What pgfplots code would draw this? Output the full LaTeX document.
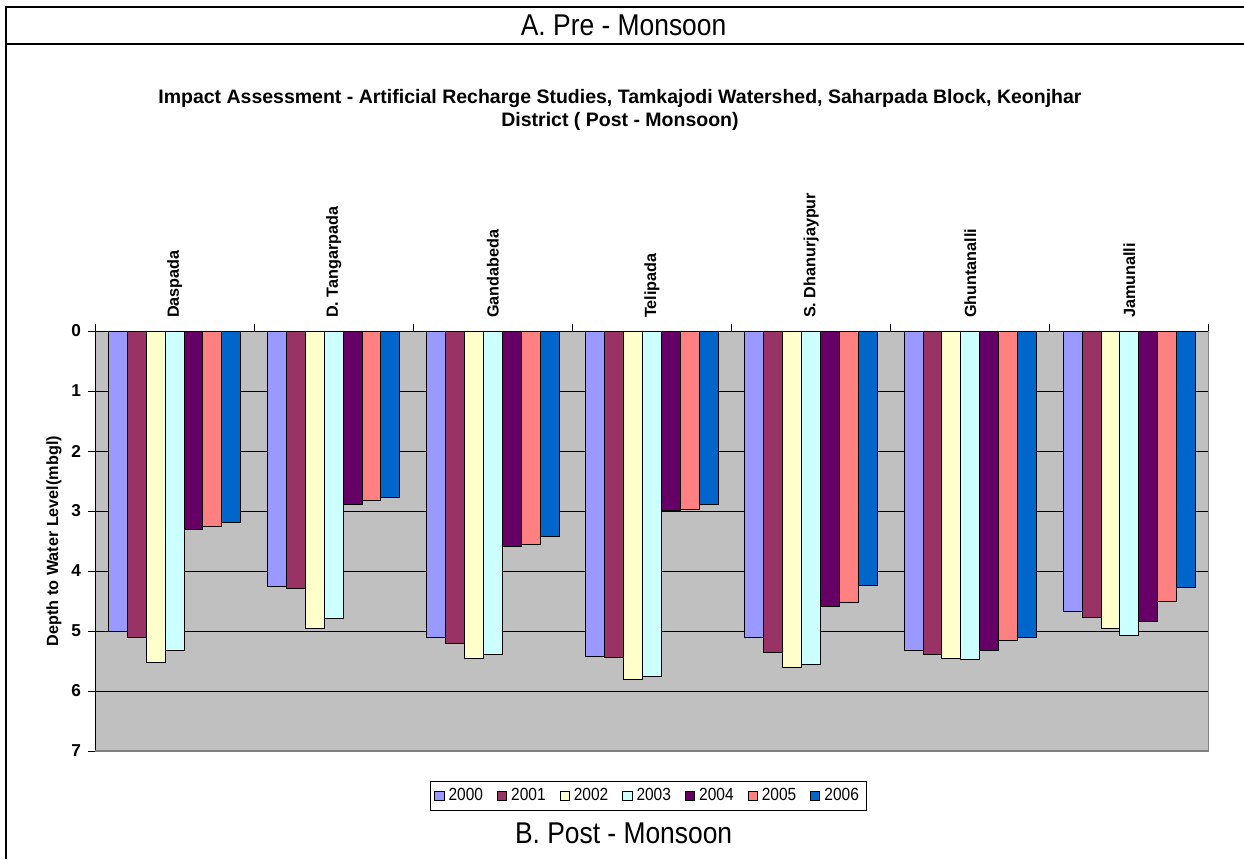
\documentclass[border=0pt]{standalone}
\usepackage{pgfplots}
\pgfplotsset{compat=1.18}
\usepackage{pgfplotstable}
\usepackage{fontspec}
\setmainfont{Liberation Sans}
\newfontfamily\narrowfont[FakeStretch=0.88]{Liberation Sans}
\definecolor{c2000}{HTML}{9999FF}
\definecolor{c2001}{HTML}{993366}
\definecolor{c2002}{HTML}{FFFFCC}
\definecolor{c2003}{HTML}{CCFFFF}
\definecolor{c2004}{HTML}{660066}
\definecolor{c2005}{HTML}{FF8080}
\definecolor{c2006}{HTML}{0066CC}
\definecolor{bgc}{HTML}{C0C0C0}
\definecolor{frm}{HTML}{808080}
\pgfplotstableread{
x y2000 y2001 y2002 y2003 y2004 y2005 y2006
0 5.00 5.10 5.52 5.32 3.30 3.25 3.19
1 4.26 4.29 4.95 4.79 2.89 2.83 2.78
2 5.10 5.21 5.45 5.39 3.59 3.56 3.42
3 5.42 5.44 5.81 5.75 2.99 2.97 2.89
4 5.11 5.35 5.61 5.55 4.59 4.52 4.24
5 5.33 5.39 5.46 5.48 5.32 5.16 5.10
6 4.68 4.77 4.95 5.07 4.84 4.50 4.27
}\data
\begin{document}
\begin{tikzpicture}
\path[use as bounding box] (0pt,0pt) rectangle (622pt,-429.5pt);
% outer frame
\draw[line width=1pt] (3pt,-3.25pt) -- (622pt,-3.25pt);
\draw[line width=1pt] (3pt,-22pt) -- (622pt,-22pt);
\draw[line width=1pt] (3pt,-2.75pt) -- (3pt,-429.5pt);
\node[anchor=base, font=\narrowfont\fontsize{15pt}{18pt}\selectfont] at (311.8pt,-17.5pt) {A. Pre - Monsoon};
\node[anchor=base, font=\narrowfont\fontsize{15pt}{18pt}\selectfont] at (311.8pt,-421.5pt) {B. Post - Monsoon};
\node[anchor=base, align=center, font=\bfseries\fontsize{9.75pt}{11.65pt}\selectfont] at (310pt,-63.35pt)
  {Impact Assessment - Artificial Recharge Studies, Tamkajodi Watershed, Saharpada Block, Keonjhar\\District ( Post - Monsoon)};
\node[rotate=90, font=\bfseries\fontsize{8.1pt}{10pt}\selectfont] at (27pt,-270.5pt) {Depth to Water Level(mbgl)};
\begin{axis}[
  at={(47.5pt,-165.5pt)}, anchor=north west,
  scale only axis, width=557pt, height=210pt,
  xmin=-0.5, xmax=6.5, ymin=0, ymax=7, y dir=reverse,
  ybar=0pt, bar width=9.45pt,
  axis background/.style={fill=bgc},
  axis line style={draw=none},
  ytick={0,...,7}, ymajorgrids, grid style={black, line width=0.5pt},
  xtick={-0.5,0.5,...,6.5}, xticklabels={},
  extra x ticks={0,1,2,3,4,5,6},
  extra x tick labels={Daspada,D. Tangarpada,Gandabeda,Telipada,S. Dhanurjaypur,Ghuntanalli,Jamunalli},
  extra x tick style={major tick length=0pt},
  tick align=outside, major tick length=3.5pt,
  tick style={black, line width=0.5pt},
  xtick pos=right, xticklabel pos=right, ytick pos=left,
  xticklabel style={rotate=90, anchor=west, xshift=3pt, font=\bfseries\fontsize{8.1pt}{10pt}\selectfont},
  yticklabel style={font=\bfseries\fontsize{8.6pt}{10pt}\selectfont, /pgf/number format/assume math mode=true},
  legend columns=7,
  legend style={at={(0.497,-0.0714)}, anchor=north, draw=black, line width=0.5pt,
    font=\narrowfont\fontsize{8.8pt}{10pt}\selectfont, inner ysep=1.5pt, inner xsep=2pt,
    /tikz/every even column/.append style={column sep=5pt}},
  legend image code/.code={\draw[#1, line width=0.5pt] (0pt,-2.3pt) rectangle (4.6pt,2.3pt);},
  every axis plot/.append style={draw=black, line width=0.5pt},
]
\addplot[fill=c2000] table[x=x,y=y2000]{\data};
\addplot[fill=c2001] table[x=x,y=y2001]{\data};
\addplot[fill=c2002] table[x=x,y=y2002]{\data};
\addplot[fill=c2003] table[x=x,y=y2003]{\data};
\addplot[fill=c2004] table[x=x,y=y2004]{\data};
\addplot[fill=c2005] table[x=x,y=y2005]{\data};
\addplot[fill=c2006] table[x=x,y=y2006]{\data};
\legend{2000,2001,2002,2003,2004,2005,2006}
\draw[black, line width=0.6pt] (axis cs:-0.5,7) -- (axis cs:-0.5,0) -- (axis cs:6.5,0);
\draw[frm, line width=1pt] (axis cs:6.5,0) -- (axis cs:6.5,7) -- (axis cs:-0.5,7);
\end{axis}
\end{tikzpicture}
\end{document}
